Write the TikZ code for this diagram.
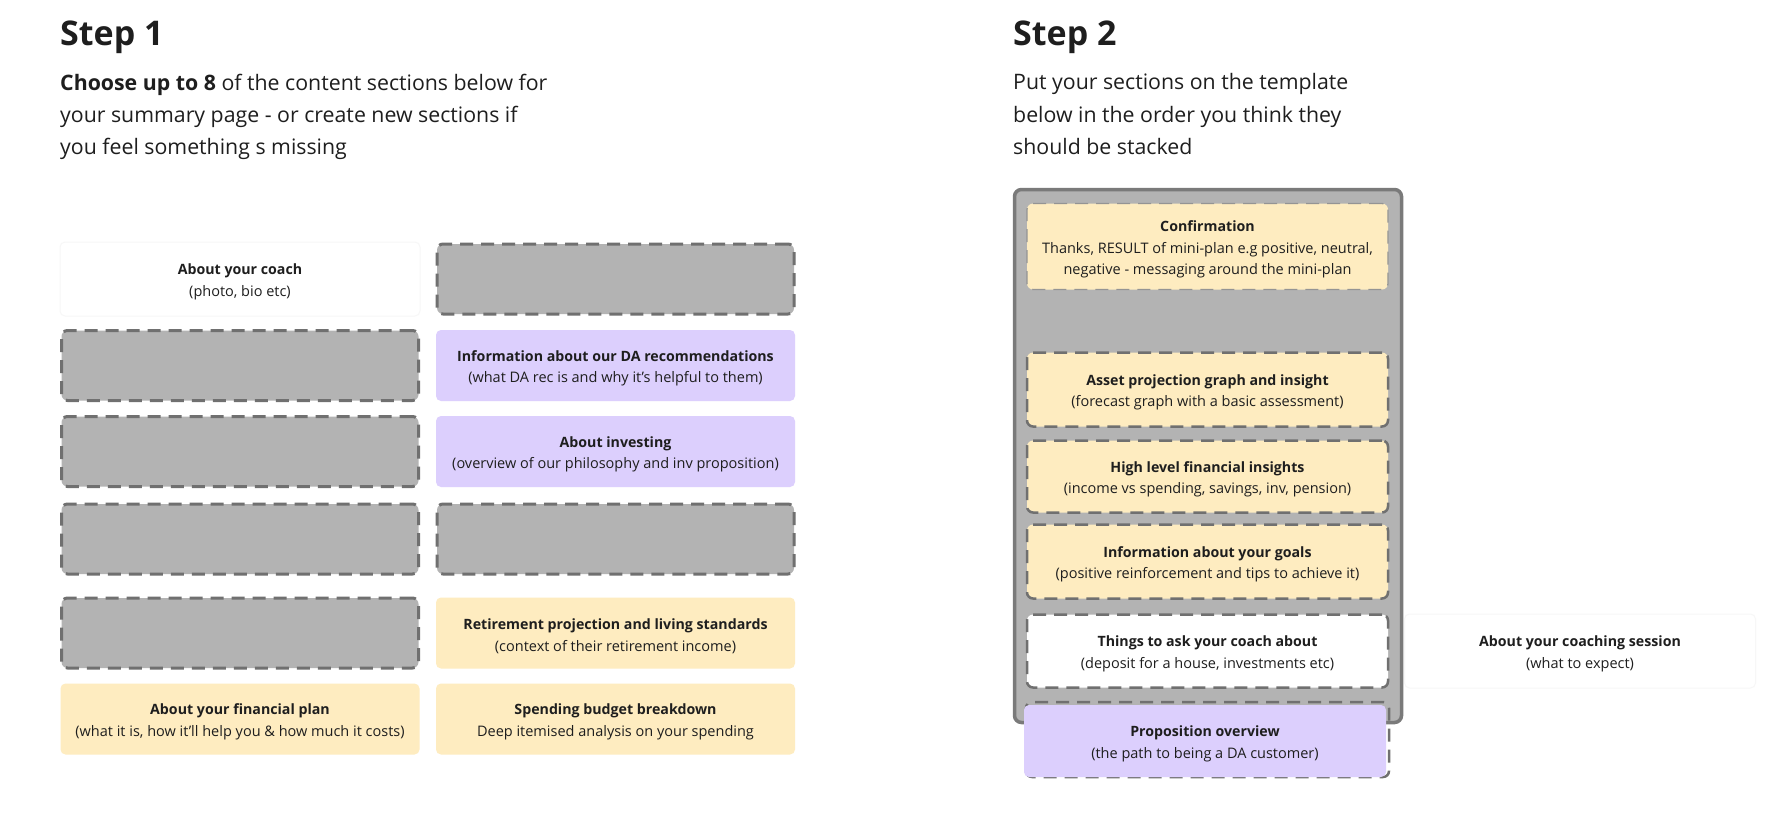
\documentclass[tikz,border=0pt]{standalone}
\usepackage{fontspec}
\setmainfont{Open Sans}
\definecolor{txt}{HTML}{1E1E1E}
\definecolor{slotgray}{HTML}{B3B3B3}
\definecolor{dashgray}{HTML}{707070}
\definecolor{cardyellow}{HTML}{FEECC0}
\definecolor{cardpurple}{HTML}{DCCFFD}
\definecolor{framegray}{HTML}{7A7A7A}
\definecolor{faint}{HTML}{F7F7F7}
\newcommand\hd[1]{{\fontsize{14.2}{21.5}\selectfont\bfseries #1}}
\tikzset{
  every node/.style={text=txt},
  boxtext/.style={align=center, font=\fontsize{14.5}{21.5}\selectfont, inner sep=0pt},
  slotbox/.style={draw=dashgray, fill=slotgray, line width=3pt, dash pattern=on 13pt off 8pt,
    rounded corners=6pt, minimum width=357pt, minimum height=70pt, inner sep=0pt},
  ycard/.style={fill=cardyellow, rounded corners=5pt, minimum width=359pt, minimum height=71pt, inner sep=0pt},
  pcard/.style={fill=cardpurple, rounded corners=5pt, minimum width=359pt, minimum height=71pt, inner sep=0pt},
  wcard/.style={fill=white, draw=faint, line width=1pt, rounded corners=5pt, minimum width=359pt, minimum height=72pt, inner sep=0pt},
  tcard/.style={draw=dashgray, line width=2.5pt, dash pattern=on 13pt off 8pt,
    rounded corners=6pt, minimum width=361pt, inner sep=0pt},
  title/.style={font=\fontsize{34}{40}\selectfont\bfseries, anchor=north west, inner sep=0pt},
  subtitle/.style={font=\fontsize{21.3}{32.2}\selectfont, anchor=north west, align=left, inner sep=0pt},
}
% text node centred on a card, slightly lowered
\newcommand\cardlabel[2]{\node[boxtext] (#1-t) at ([yshift=-3pt]#1.center) {#2};}
\begin{document}
\begin{tikzpicture}[x=1pt,y=-1pt]
\useasboundingbox[fill=white] (0,0) rectangle (1780,820);

% ---------- Step 1 ----------
\node[title] (t1) at (60,21) {Step 1};
\node[subtitle] (s1) at (60,73.5) {\textbf{Choose up to 8} of the content sections below for\\your summary page - or create new sections if\\you feel something s missing};

\node[wcard, minimum width=360pt, minimum height=74pt] (coach) at (240,279) {};
\cardlabel{coach}{\hd{About your coach}\\(photo, bio etc)}
\node[slotbox] (r0) at (615.5,279) {};

\node[slotbox] (l1) at (240,365.5) {};
\node[pcard] (darec) at (615.5,365.5) {};
\cardlabel{darec}{\hd{Information about our DA recommendations}\\(what DA rec is and why it’s helpful to them)}

\node[slotbox] (l2) at (240,451.5) {};
\node[pcard] (invest) at (615.5,451.5) {};
\cardlabel{invest}{\hd{About investing}\\(overview of our philosophy and inv proposition)}

\node[slotbox] (l3) at (240,539) {};
\node[slotbox] (r3) at (615.5,539) {};

\node[slotbox] (l4) at (240,633) {};
\node[ycard] (retire) at (615.5,633) {};
\cardlabel{retire}{\hd{Retirement projection and living standards}\\(context of their retirement income)}

\node[ycard] (finplan) at (240,719) {};
\cardlabel{finplan}{\hd{About your financial plan}\\(what it is, how it’ll help you \& how much it costs)}
\node[ycard] (budget) at (615.5,719) {};
\cardlabel{budget}{\hd{Spending budget breakdown}\\Deep itemised analysis on your spending}

% ---------- Step 2 ----------
\node[title] (t2) at (1013,21) {Step 2};
\node[subtitle] (s2) at (1013,73.5) {Put your sections on the template\\below in the order you think they\\should be stacked};

\node[draw=framegray, fill=slotgray, line width=3.5pt, rounded corners=7pt,
  minimum width=387pt, minimum height=533pt, inner sep=0pt] (frame) at (1208,456) {};

\node[tcard, fill=cardyellow, draw=dashgray!75, line width=1.3pt, minimum height=86pt] (confirm) at (1207.5,246.5) {};
\cardlabel{confirm}{\hd{Confirmation}\\Thanks, RESULT of mini-plan e.g positive, neutral,\\negative - messaging around the mini-plan}
\node[tcard, fill=cardyellow, minimum height=74pt] (asset) at (1207.5,389.5) {};
\cardlabel{asset}{\hd{Asset projection graph and insight}\\(forecast graph with a basic assessment)}
\node[tcard, fill=cardyellow, minimum height=72pt] (insights) at (1207.5,476.5) {};
\cardlabel{insights}{\hd{High level financial insights}\\(income vs spending, savings, inv, pension)}
\node[tcard, fill=cardyellow, minimum height=74pt] (goals) at (1207.5,561.5) {};
\cardlabel{goals}{\hd{Information about your goals}\\(positive reinforcement and tips to achieve it)}
\node[tcard, fill=white, minimum height=73pt] (ask) at (1207.5,651) {};
\cardlabel{ask}{\hd{Things to ask your coach about}\\(deposit for a house, investments etc)}

\draw[draw=dashgray, line width=2.5pt, dash pattern=on 13pt off 8pt, rounded corners=6pt]
  (1026,702) rectangle (1389,777);
\node[pcard, minimum width=362pt, minimum height=72pt] (prop) at (1205,741) {};
\cardlabel{prop}{\hd{Proposition overview}\\(the path to being a DA customer)}

\node[wcard, minimum width=351pt, minimum height=74pt] (session) at (1580,651) {};
\cardlabel{session}{\hd{About your coaching session}\\(what to expect)}
\end{tikzpicture}
\end{document}
